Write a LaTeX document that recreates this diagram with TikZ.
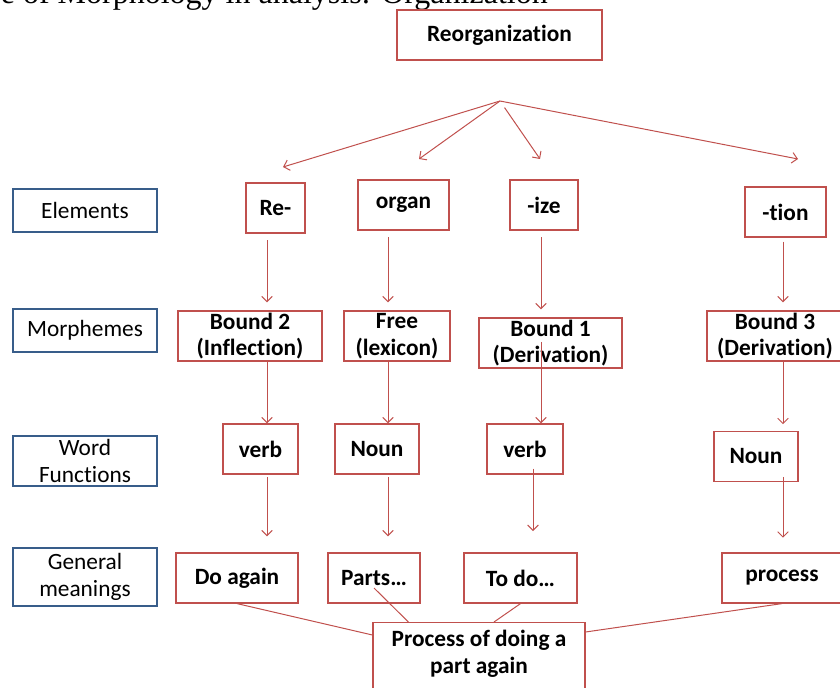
\documentclass[tikz,border=0pt]{standalone}
\usepackage{fontspec}
\setmainfont{Carlito}[Ligatures=NoCommon]
\newfontfamily\titlefont{Liberation Serif}
\usetikzlibrary{arrows.meta}
\definecolor{boxred}{RGB}{192,80,77}
\definecolor{boxblue}{RGB}{56,93,138}

\begin{document}
\begin{tikzpicture}[x=0.75pt,y=-0.75pt,>={Straight Barb[length=4pt,width=8pt]},
  every node/.style={font=\fontsize{17.5}{20}\selectfont,align=center,inner sep=0pt},
  item/.style={draw=boxred,line width=0.9pt,fill=white,font=\fontsize{17.5}{20}\selectfont\bfseries,minimum height=37.5pt},
  level/.style={draw=boxblue,line width=1.6pt,minimum width=108pt},
  link/.style={->,draw=boxred,line width=0.75pt},
  meet/.style={draw=boxred,line width=0.75pt}]

\useasboundingbox (0,0) rectangle (840,688);

\node[anchor=base east,font=\titlefont\fontsize{24}{28}\selectfont] (title) at (548,4) {le of Morphology in analysis: Organization};

\node[item,minimum width=153.75pt] (reorg) at (499.5,35) {Reorganization};

% levels
\node[level,minimum height=32.25pt] (elem)  at (85,210.5) {Elements};
\node[level,minimum height=32.25pt] (morph) at (85,330.5) {Morphemes};
\node[level,minimum height=37.5pt]  (func)  at (85,461)   {Word\\Functions};
\node[level,minimum height=43.5pt]  (mean)  at (85,577)   {General\\meanings};

% elements
\node[item,minimum width=44.25pt] (re)    at (275.5,208) {Re-};
\node[item,minimum width=68.25pt] (organ) at (403.5,205) {organ};
\node[item,minimum width=51pt]    (ize)   at (544,205)   {-ize};
\node[item,minimum width=60.75pt] (tion)  at (785.5,212) {-tion};

% morphemes
\node[item,minimum width=108pt]    (bnd2) at (250,336)   {Bound 2\\(Inflection)};
\node[item,minimum width=79.5pt]   (free) at (397,336)   {Free\\(lexicon)};
\node[item,minimum width=107.25pt] (bnd1) at (550.5,343) {Bound 1\\(Derivation)};
\node[item,minimum width=102pt]    (bnd3) at (775,336)   {Bound 3\\(Derivation)};

% word functions
\node[item,minimum width=56.25pt] (verbA) at (260.5,449) {verb};
\node[item,minimum width=63pt]    (nounA) at (377,449)   {Noun};
\node[item,minimum width=57pt]    (verbB) at (525,449)   {verb};
\node[item,minimum width=63pt]    (nounB) at (756,456.5) {Noun};

% meanings
\node[item,minimum width=91.5pt]  (again)   at (237,578)   {Do again};
\node[item,minimum width=69pt]    (parts)   at (374,578)   {Parts\dots};
\node[item,minimum width=84.75pt] (todo)    at (520.5,578) {To do\dots};
\node[item,minimum width=90pt]    (process) at (782,578)   {process};

\node[item,minimum width=159pt,anchor=north,inner ysep=6pt] (whole) at (479,622)
  {Process of doing a\\part again\rule[-20pt]{0pt}{20pt}};

% fork under the word
\coordinate (fork) at (500,101);
\coordinate (t1) at (283,167);
\coordinate (t2) at (419,159);
\coordinate (t3) at (540,159);
\coordinate (t4) at (798,159);
\draw[link] (fork) -- (t1);
\draw[link] (fork) -- (t2);
\draw[link,shorten <=6pt] (fork) -- (t3);
\draw[link] (fork) -- (t4);

% columns
\coordinate (c1) at (267,0);
\coordinate (c2) at (388,0);
\coordinate (c3) at (541,0);
\coordinate (c3b) at (533,0);
\coordinate (c4) at (783,0);

\draw[link,shorten <=5pt,shorten >=6pt] (re.south -| c1) -- (bnd2.north -| c1);
\draw[link,shorten <=5pt,shorten >=6pt] (organ.south -| c2) -- (free.north -| c2);
\draw[link,shorten <=5pt,shorten >=6pt] (ize.south -| c3) -- (bnd1.north -| c3);
\draw[link,shorten <=3pt,shorten >=6pt] (tion.south -| c4) -- (bnd3.north -| c4);

\draw[link] (bnd2.south -| c1) -- (verbA.north -| c1);
\draw[link] (free.south -| c2) -- (nounA.north -| c2);
\draw[link,shorten <=-20pt] (bnd1.south -| c3) -- (verbB.north -| c3);
\draw[link,shorten >=5pt] (bnd3.south -| c4) -- (nounB.north -| c4);

\draw[link,shorten <=2pt,shorten >=12pt] (verbA.south -| c1) -- (again.north -| c1);
\draw[link,shorten <=2pt,shorten >=12pt] (nounA.south -| c2) -- (parts.north -| c2);
\draw[link,shorten <=-4.5pt,shorten >=16pt] (verbB.south -| c3b) -- (todo.north -| c3b);
\draw[link,shorten <=-4pt,shorten >=11pt] (nounB.south -| c4) -- (process.north -| c4);

% into the whole meaning
\draw[meet] (again.south) -- ([yshift=-9.75pt]whole.north west);
\draw[meet] ([yshift=-7.5pt]parts.center) -- ([xshift=27pt]whole.north west);
\draw[meet] (todo.south) -- ([xshift=11.25pt]whole.north);
\draw[meet] (process.south) -- ([yshift=-7.5pt]whole.north east);

\end{tikzpicture}
\end{document}
